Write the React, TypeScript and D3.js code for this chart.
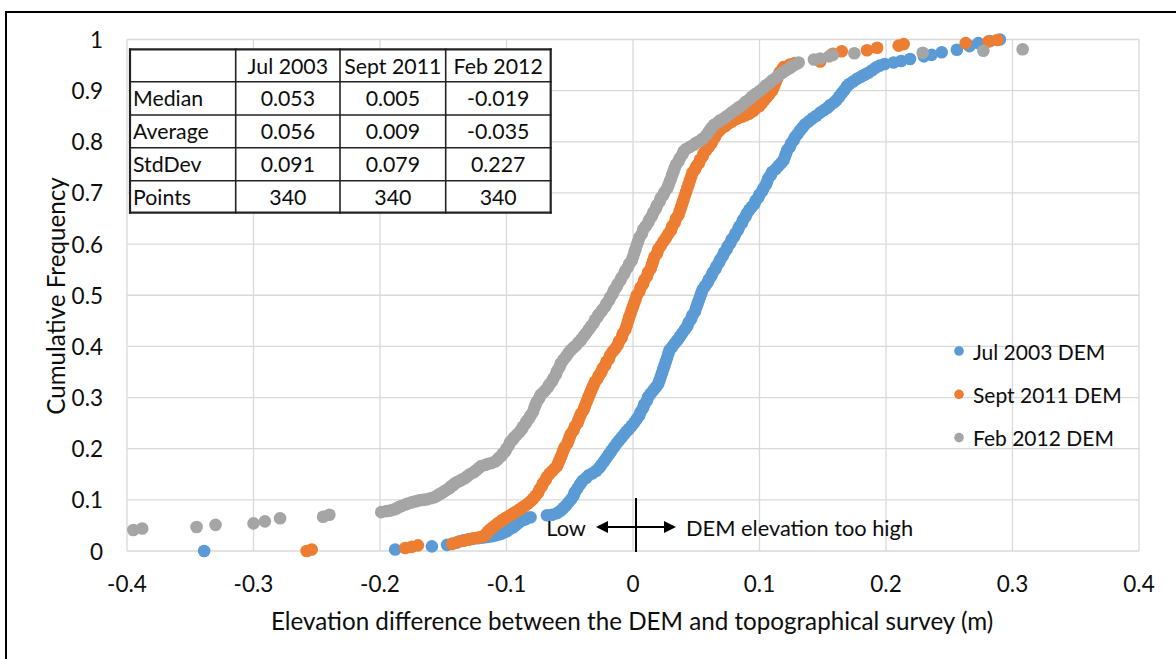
import React from "react";
import * as d3 from "d3";

// ---------- data ----------
const xTickLabels = ["-0.4", "-0.3", "-0.2", "-0.1", "0", "0.1", "0.2", "0.3", "0.4"];
const yTickLabels = ["0", "0.1", "0.2", "0.3", "0.4", "0.5", "0.6", "0.7", "0.8", "0.9", "1"];

const seriesNames = ["Jul 2003 DEM", "Sept 2011 DEM", "Feb 2012 DEM"];
const seriesColors = ["#5B9BD5", "#ED7D31", "#A5A5A5"];

// [elevation difference (m), cumulative frequency]
const jul2003: [number, number][] = [
  [-0.339, 0.0], [-0.188, 0.003], [-0.159, 0.009], [-0.147, 0.012], [-0.143, 0.014], [-0.14, 0.016],
  [-0.137, 0.019], [-0.134, 0.021], [-0.13, 0.023], [-0.127, 0.024], [-0.123, 0.025], [-0.12, 0.026],
  [-0.117, 0.027], [-0.114, 0.028], [-0.111, 0.029], [-0.108, 0.031], [-0.105, 0.033], [-0.103, 0.035],
  [-0.1, 0.038], [-0.098, 0.042], [-0.095, 0.046], [-0.093, 0.05], [-0.091, 0.054], [-0.089, 0.058],
  [-0.086, 0.061], [-0.084, 0.064], [-0.081, 0.066], [-0.068, 0.07], [-0.064, 0.071], [-0.06, 0.074],
  [-0.057, 0.079], [-0.055, 0.084], [-0.053, 0.089], [-0.051, 0.095], [-0.049, 0.101], [-0.047, 0.108],
  [-0.046, 0.115], [-0.044, 0.122], [-0.042, 0.13], [-0.04, 0.137], [-0.037, 0.143], [-0.035, 0.148],
  [-0.032, 0.152], [-0.029, 0.157], [-0.027, 0.162], [-0.025, 0.168], [-0.023, 0.175], [-0.021, 0.182],
  [-0.019, 0.189], [-0.017, 0.196], [-0.015, 0.203], [-0.013, 0.21], [-0.011, 0.216], [-0.009, 0.222],
  [-0.007, 0.228], [-0.005, 0.234], [-0.003, 0.239], [-0.001, 0.245], [0.001, 0.251], [0.003, 0.258],
  [0.005, 0.265], [0.006, 0.272], [0.008, 0.28], [0.009, 0.287], [0.011, 0.294], [0.012, 0.301],
  [0.014, 0.308], [0.016, 0.314], [0.018, 0.32], [0.02, 0.327], [0.021, 0.334], [0.022, 0.341],
  [0.023, 0.348], [0.024, 0.356], [0.025, 0.363], [0.026, 0.371], [0.027, 0.378], [0.028, 0.386],
  [0.029, 0.393], [0.031, 0.399], [0.033, 0.406], [0.035, 0.412], [0.037, 0.419], [0.039, 0.426],
  [0.041, 0.433], [0.043, 0.44], [0.044, 0.447], [0.046, 0.454], [0.047, 0.461], [0.049, 0.468],
  [0.05, 0.476], [0.051, 0.483], [0.052, 0.49], [0.053, 0.497], [0.054, 0.504], [0.055, 0.511],
  [0.057, 0.518], [0.059, 0.525], [0.06, 0.531], [0.062, 0.538], [0.063, 0.544], [0.065, 0.551],
  [0.066, 0.557], [0.068, 0.564], [0.069, 0.57], [0.071, 0.577], [0.072, 0.583], [0.074, 0.59],
  [0.075, 0.596], [0.077, 0.602], [0.078, 0.609], [0.08, 0.615], [0.081, 0.621], [0.083, 0.628],
  [0.084, 0.634], [0.086, 0.641], [0.087, 0.647], [0.089, 0.654], [0.09, 0.66], [0.092, 0.667],
  [0.094, 0.673], [0.096, 0.679], [0.097, 0.685], [0.099, 0.691], [0.1, 0.697], [0.102, 0.703],
  [0.103, 0.709], [0.105, 0.716], [0.106, 0.722], [0.107, 0.729], [0.109, 0.735], [0.11, 0.741],
  [0.113, 0.747], [0.115, 0.753], [0.117, 0.758], [0.119, 0.764], [0.12, 0.771], [0.121, 0.777],
  [0.122, 0.784], [0.124, 0.79], [0.125, 0.797], [0.127, 0.803], [0.128, 0.809], [0.13, 0.815],
  [0.132, 0.822], [0.134, 0.828], [0.136, 0.834], [0.139, 0.84], [0.142, 0.846], [0.145, 0.851],
  [0.148, 0.857], [0.151, 0.862], [0.154, 0.867], [0.156, 0.872], [0.159, 0.877], [0.161, 0.882],
  [0.163, 0.888], [0.165, 0.895], [0.167, 0.901], [0.169, 0.908], [0.171, 0.913], [0.174, 0.918],
  [0.177, 0.923], [0.18, 0.927], [0.183, 0.931], [0.186, 0.935], [0.189, 0.94], [0.192, 0.945],
  [0.195, 0.949], [0.199, 0.952], [0.206, 0.955], [0.212, 0.958], [0.219, 0.962], [0.23, 0.967],
  [0.236, 0.97], [0.244, 0.975], [0.256, 0.98], [0.266, 0.987], [0.273, 0.993], [0.282, 0.997],
  [0.29, 1.0],
];

const sept2011: [number, number][] = [
  [-0.258, 0.0], [-0.254, 0.003], [-0.18, 0.006], [-0.175, 0.008], [-0.17, 0.011], [-0.143, 0.014],
  [-0.139, 0.017], [-0.134, 0.02], [-0.131, 0.022], [-0.129, 0.023], [-0.126, 0.025], [-0.123, 0.026],
  [-0.12, 0.028], [-0.118, 0.029], [-0.116, 0.033], [-0.115, 0.037], [-0.113, 0.042], [-0.111, 0.046],
  [-0.109, 0.05], [-0.107, 0.054], [-0.105, 0.057], [-0.103, 0.061], [-0.101, 0.064], [-0.099, 0.067],
  [-0.097, 0.07], [-0.095, 0.073], [-0.093, 0.076], [-0.091, 0.079], [-0.089, 0.082], [-0.087, 0.086],
  [-0.085, 0.089], [-0.083, 0.093], [-0.081, 0.097], [-0.079, 0.102], [-0.077, 0.108], [-0.075, 0.114],
  [-0.074, 0.12], [-0.072, 0.127], [-0.071, 0.133], [-0.069, 0.139], [-0.068, 0.145], [-0.066, 0.151],
  [-0.064, 0.156], [-0.062, 0.161], [-0.06, 0.166], [-0.059, 0.172], [-0.058, 0.178], [-0.057, 0.184],
  [-0.056, 0.19], [-0.055, 0.197], [-0.054, 0.203], [-0.052, 0.21], [-0.051, 0.216], [-0.05, 0.223],
  [-0.049, 0.229], [-0.047, 0.236], [-0.046, 0.243], [-0.044, 0.25], [-0.043, 0.256], [-0.042, 0.263],
  [-0.041, 0.269], [-0.039, 0.276], [-0.038, 0.283], [-0.037, 0.29], [-0.036, 0.296], [-0.035, 0.302],
  [-0.034, 0.308], [-0.033, 0.314], [-0.032, 0.32], [-0.031, 0.325], [-0.03, 0.331], [-0.028, 0.337],
  [-0.027, 0.343], [-0.025, 0.35], [-0.024, 0.357], [-0.022, 0.363], [-0.021, 0.37], [-0.019, 0.376],
  [-0.018, 0.383], [-0.016, 0.39], [-0.014, 0.396], [-0.012, 0.403], [-0.011, 0.41], [-0.009, 0.417],
  [-0.008, 0.425], [-0.006, 0.433], [-0.005, 0.441], [-0.004, 0.449], [-0.003, 0.457], [-0.002, 0.464],
  [-0.001, 0.471], [0.0, 0.478], [0.001, 0.485], [0.002, 0.492], [0.003, 0.5], [0.005, 0.507],
  [0.006, 0.515], [0.008, 0.522], [0.009, 0.53], [0.011, 0.537], [0.012, 0.545], [0.014, 0.552],
  [0.015, 0.56], [0.016, 0.567], [0.017, 0.575], [0.019, 0.582], [0.02, 0.59], [0.022, 0.597],
  [0.024, 0.605], [0.026, 0.612], [0.028, 0.62], [0.03, 0.627], [0.031, 0.635], [0.033, 0.642],
  [0.034, 0.65], [0.036, 0.657], [0.037, 0.665], [0.038, 0.672], [0.039, 0.68], [0.04, 0.687],
  [0.041, 0.695], [0.042, 0.702], [0.043, 0.71], [0.044, 0.717], [0.045, 0.725], [0.046, 0.732],
  [0.047, 0.74], [0.049, 0.746], [0.05, 0.752], [0.052, 0.758], [0.053, 0.765], [0.055, 0.771],
  [0.056, 0.778], [0.058, 0.784], [0.06, 0.79], [0.062, 0.797], [0.063, 0.803], [0.065, 0.81],
  [0.066, 0.816], [0.068, 0.821], [0.07, 0.826], [0.073, 0.831], [0.075, 0.835], [0.078, 0.839],
  [0.08, 0.843], [0.083, 0.846], [0.086, 0.849], [0.089, 0.852], [0.092, 0.855], [0.095, 0.86],
  [0.097, 0.865], [0.1, 0.87], [0.102, 0.876], [0.104, 0.882], [0.106, 0.888], [0.108, 0.894],
  [0.11, 0.9], [0.111, 0.906], [0.112, 0.912], [0.113, 0.918], [0.114, 0.924], [0.115, 0.93],
  [0.116, 0.936], [0.118, 0.941], [0.119, 0.946], [0.124, 0.951], [0.128, 0.954], [0.148, 0.957],
  [0.158, 0.972], [0.165, 0.977], [0.185, 0.979], [0.193, 0.984], [0.21, 0.988], [0.214, 0.991],
  [0.263, 0.993], [0.281, 0.996], [0.288, 0.999],
];

const feb2012: [number, number][] = [
  [-0.395, 0.041], [-0.388, 0.044], [-0.345, 0.047], [-0.33, 0.051], [-0.3, 0.054], [-0.291, 0.058],
  [-0.279, 0.064], [-0.245, 0.067], [-0.24, 0.071], [-0.199, 0.076], [-0.195, 0.078], [-0.192, 0.079],
  [-0.189, 0.081], [-0.187, 0.083], [-0.185, 0.086], [-0.183, 0.088], [-0.18, 0.091], [-0.178, 0.093],
  [-0.175, 0.095], [-0.172, 0.097], [-0.169, 0.099], [-0.166, 0.1], [-0.163, 0.101], [-0.16, 0.103],
  [-0.157, 0.105], [-0.155, 0.108], [-0.153, 0.111], [-0.151, 0.114], [-0.149, 0.117], [-0.147, 0.12],
  [-0.145, 0.123], [-0.144, 0.126], [-0.142, 0.129], [-0.141, 0.132], [-0.139, 0.135], [-0.137, 0.137],
  [-0.135, 0.14], [-0.133, 0.142], [-0.131, 0.146], [-0.129, 0.15], [-0.126, 0.154], [-0.124, 0.158],
  [-0.122, 0.162], [-0.12, 0.166], [-0.117, 0.168], [-0.115, 0.17], [-0.112, 0.172], [-0.109, 0.175],
  [-0.107, 0.179], [-0.106, 0.182], [-0.104, 0.186], [-0.103, 0.19], [-0.101, 0.195], [-0.1, 0.2],
  [-0.098, 0.207], [-0.097, 0.213], [-0.095, 0.218], [-0.094, 0.222], [-0.092, 0.227], [-0.09, 0.232],
  [-0.088, 0.238], [-0.087, 0.243], [-0.085, 0.249], [-0.084, 0.254], [-0.082, 0.26], [-0.081, 0.265],
  [-0.079, 0.272], [-0.078, 0.28], [-0.077, 0.286], [-0.076, 0.292], [-0.074, 0.299], [-0.073, 0.305],
  [-0.071, 0.31], [-0.069, 0.315], [-0.067, 0.321], [-0.066, 0.326], [-0.064, 0.332], [-0.063, 0.337],
  [-0.061, 0.345], [-0.06, 0.352], [-0.058, 0.36], [-0.057, 0.367], [-0.055, 0.374], [-0.053, 0.38],
  [-0.051, 0.387], [-0.049, 0.393], [-0.047, 0.398], [-0.045, 0.402], [-0.043, 0.408], [-0.041, 0.413],
  [-0.039, 0.42], [-0.037, 0.426], [-0.035, 0.433], [-0.033, 0.44], [-0.031, 0.446], [-0.03, 0.452],
  [-0.028, 0.458], [-0.027, 0.463], [-0.025, 0.468], [-0.024, 0.472], [-0.022, 0.478], [-0.021, 0.484],
  [-0.019, 0.49], [-0.018, 0.496], [-0.016, 0.503], [-0.015, 0.51], [-0.013, 0.516], [-0.012, 0.522],
  [-0.01, 0.529], [-0.009, 0.535], [-0.007, 0.542], [-0.006, 0.548], [-0.004, 0.555], [-0.003, 0.561],
  [-0.001, 0.568], [0.0, 0.575], [0.001, 0.583], [0.002, 0.59], [0.003, 0.598], [0.004, 0.605],
  [0.005, 0.613], [0.007, 0.62], [0.008, 0.628], [0.01, 0.635], [0.012, 0.642], [0.013, 0.648],
  [0.015, 0.655], [0.016, 0.662], [0.018, 0.669], [0.019, 0.676], [0.021, 0.683], [0.022, 0.69],
  [0.024, 0.696], [0.025, 0.702], [0.027, 0.709], [0.028, 0.715], [0.029, 0.722], [0.03, 0.728],
  [0.031, 0.735], [0.032, 0.742], [0.033, 0.749], [0.034, 0.755], [0.036, 0.762], [0.037, 0.768],
  [0.039, 0.775], [0.04, 0.781], [0.042, 0.786], [0.045, 0.79], [0.048, 0.794], [0.05, 0.798],
  [0.053, 0.802], [0.055, 0.806], [0.058, 0.813], [0.06, 0.82], [0.062, 0.827], [0.064, 0.833],
  [0.067, 0.838], [0.069, 0.842], [0.072, 0.846], [0.074, 0.85], [0.077, 0.855], [0.079, 0.859],
  [0.082, 0.864], [0.084, 0.868], [0.087, 0.873], [0.089, 0.878], [0.092, 0.883], [0.094, 0.888],
  [0.097, 0.894], [0.1, 0.899], [0.103, 0.905], [0.105, 0.91], [0.108, 0.915], [0.11, 0.92],
  [0.113, 0.925], [0.115, 0.93], [0.118, 0.935], [0.121, 0.94], [0.124, 0.944], [0.126, 0.948],
  [0.129, 0.952], [0.131, 0.955], [0.143, 0.961], [0.148, 0.963], [0.155, 0.967], [0.158, 0.97],
  [0.175, 0.973], [0.229, 0.974], [0.277, 0.978], [0.308, 0.981],
];

const tableColumns = ["Jul 2003", "Sept 2011", "Feb 2012"];
const tableRowLabels = ["Median", "Average", "StdDev", "Points"];
const tableValues = [
  ["0.053", "0.005", "-0.019"],
  ["0.056", "0.009", "-0.035"],
  ["0.091", "0.079", "0.227"],
  ["340", "340", "340"],
];

const xTitle = "Elevation difference between the DEM and topographical survey (m)";
const yTitle = "Cumulative Frequency";
const lowLabel = "Low";
const highLabel = "DEM elevation too high";

// ---------- layout ----------
const W = 1176;
const H = 659;
const FONT = "Lato, 'Open Sans', sans-serif";
const TEXT = "#0d0d0d";
const GRID = "#d9d9d9";

export default function App() {
  const x = d3.scaleLinear().domain([-0.4, 0.4]).range([127, 1139]);
  const y = d3.scaleLinear().domain([0, 1]).range([551, 39.5]);
  const xTicks = xTickLabels.map((t) => ({ v: parseFloat(t), label: t }));
  const yTicks = yTickLabels.map((t) => ({ v: parseFloat(t), label: t }));
  const series = [jul2003, sept2011, feb2012];

  const colEdges = [130, 235.7, 340, 445.7, 550.7];
  const rowEdges = [49.3, 81.7, 115, 147.7, 180.7, 212.7];

  const zeroX = x(0) + 3;
  const arrowY = 527;

  return (
    <div style={{ position: "absolute", left: 0, top: 0 }}>
      <svg width={W} height={H} style={{ display: "block", background: "#fff" }} fontFamily={FONT}>
        <rect x={6} y={12} width={W + 20} height={H + 20} fill="#fff" stroke="#000" strokeWidth={2} />

        {/* grid */}
        <g>
          {xTicks.map((t) => (
            <line key={"gx" + t.label} x1={x(t.v)} x2={x(t.v)} y1={y(0)} y2={y(1)} stroke={GRID} strokeWidth={1.3} />
          ))}
          {yTicks.map((t) => (
            <line key={"gy" + t.label} x1={x(-0.4)} x2={x(0.4)} y1={y(t.v)} y2={y(t.v)} stroke={GRID} strokeWidth={1.3} />
          ))}
        </g>

        {/* tick labels */}
        <g fontSize={22.5} fill={TEXT}>
          {yTicks.map((t) => (
            <text key={"ty" + t.label} x={103} y={y(t.v)} textAnchor="end" dominantBaseline="central">
              {t.label}
            </text>
          ))}
          {xTicks.map((t) => (
            <text key={"tx" + t.label} x={x(t.v)} y={583} textAnchor="middle" dominantBaseline="central">
              {t.label}
            </text>
          ))}
        </g>

        {/* axis titles */}
        <text x={632} y={620} textAnchor="middle" dominantBaseline="central" fontSize={24.2} fill={TEXT}>
          {xTitle}
        </text>
        <text
          transform={`translate(55,296) rotate(-90)`}
          textAnchor="middle"
          dominantBaseline="central"
          fontSize={24.2}
          fill={TEXT}
        >
          {yTitle}
        </text>

        {/* series */}
        {series.map((s, i) => (
          <g key={"s" + i} fill={seriesColors[i]}>
            {s.map((d, j) => (
              <circle key={j} cx={x(d[0])} cy={y(d[1])} r={6.3} />
            ))}
          </g>
        ))}

        {/* annotation */}
        <g>
          <line x1={zeroX} x2={zeroX} y1={498} y2={552} stroke="#000" strokeWidth={2} />
          <line x1={604} x2={668} y1={arrowY} y2={arrowY} stroke="#000" strokeWidth={2} />
          <path d={`M596,${arrowY} L608,${arrowY - 6} L608,${arrowY + 6} Z`} fill="#000" />
          <path d={`M676,${arrowY} L664,${arrowY - 6} L664,${arrowY + 6} Z`} fill="#000" />
          <text x={586} y={arrowY} textAnchor="end" dominantBaseline="central" fontSize={21.8} fill={TEXT}>
            {lowLabel}
          </text>
          <text x={686} y={arrowY} textAnchor="start" dominantBaseline="central" fontSize={21.8} fill={TEXT}>
            {highLabel}
          </text>
        </g>

        {/* legend */}
        <g fontSize={21} fill={TEXT}>
          {seriesNames.map((n, i) => (
            <g key={"l" + i}>
              <circle cx={959} cy={351 + i * 43.3} r={4.8} fill={seriesColors[i]} />
              <text x={973} y={351 + i * 43.3} dominantBaseline="central">
                {n}
              </text>
            </g>
          ))}
        </g>

        {/* table */}
        <g>
          <rect
            x={colEdges[0]}
            y={rowEdges[0]}
            width={colEdges[4] - colEdges[0]}
            height={rowEdges[5] - rowEdges[0]}
            fill="#fff"
          />
          {colEdges.map((cx, i) => (
            <line key={"tc" + i} x1={cx} x2={cx} y1={rowEdges[0] - 1} y2={rowEdges[5] + 1} stroke="#222" strokeWidth={i === 0 || i === 4 ? 2.2 : 1.6} />
          ))}
          {rowEdges.map((ry, i) => (
            <line key={"tr" + i} x1={colEdges[0] - 1} x2={colEdges[4] + 1} y1={ry} y2={ry} stroke="#222" strokeWidth={i === 0 || i === 5 ? 2.2 : 1.6} />
          ))}
          <g fontSize={21.3} fill={TEXT}>
            {tableColumns.map((c, i) => (
              <text key={"hc" + i} x={(colEdges[i + 1] + colEdges[i + 2]) / 2} y={(rowEdges[0] + rowEdges[1]) / 2} textAnchor="middle" dominantBaseline="central">
                {c}
              </text>
            ))}
            {tableRowLabels.map((r, i) => (
              <g key={"rw" + i}>
                <text x={colEdges[0] + 3} y={(rowEdges[i + 1] + rowEdges[i + 2]) / 2} dominantBaseline="central">
                  {r}
                </text>
                {tableValues[i].map((v, j) => (
                  <text
                    key={"v" + j}
                    x={(colEdges[j + 1] + colEdges[j + 2]) / 2}
                    y={(rowEdges[i + 1] + rowEdges[i + 2]) / 2}
                    textAnchor="middle"
                    dominantBaseline="central"
                  >
                    {v}
                  </text>
                ))}
              </g>
            ))}
          </g>
        </g>
      </svg>
    </div>
  );
}
